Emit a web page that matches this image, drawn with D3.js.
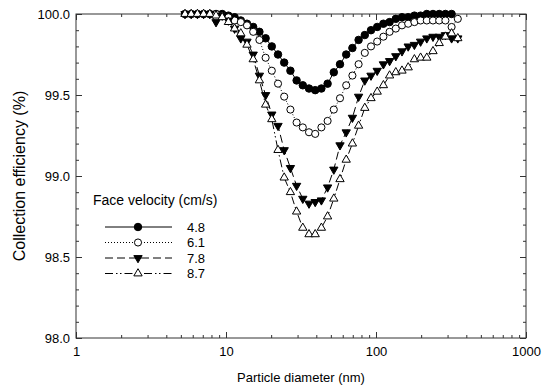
<!DOCTYPE html>
<html>
<head>
<meta charset="utf-8">
<script src="https://cdn.jsdelivr.net/npm/d3@7"></script>
<style>
  html, body { margin: 0; padding: 0; background: #fff; }
  svg { display: block; font-family: "Liberation Sans", Arial, sans-serif; }
</style>
</head>
<body>
<svg id="chart" width="549" height="387"></svg>
<script>
// ---- data ----
const diameters = [5.33, 5.86, 6.45, 7.09, 7.80, 8.58, 9.43, 10.38, 11.41, 12.55,
  13.80, 15.18, 16.70, 18.37, 20.20, 22.22, 24.43, 26.88, 29.56, 32.51,
  35.76, 39.33, 43.25, 47.57, 52.32, 57.54, 63.29, 69.61, 76.56, 84.20,
  92.61, 101.86, 112.03, 123.21, 135.52, 149.05, 163.93, 180.30, 198.30, 218.10,
  239.88, 263.83, 290.17, 319.15, 351.02];

const eff48 = [100.00, 100.00, 100.00, 100.00, 100.00, 100.00, 100.00, 99.99, 99.98, 99.96,
  99.94, 99.92, 99.89, 99.85, 99.80, 99.75, 99.70, 99.65, 99.59, 99.56,
  99.54, 99.53, 99.54, 99.57, 99.64, 99.69, 99.75, 99.79, 99.84, 99.87,
  99.90, 99.92, 99.94, 99.95, 99.97, 99.98, 99.98, 99.99, 99.99, 100.00,
  100.00, 100.00, 100.00, 100.00];

const eff61 = [100.00, 100.00, 100.00, 100.00, 100.00, 100.00, 99.99, 99.98, 99.96, 99.95,
  99.93, 99.89, 99.84, 99.73, 99.65, 99.57, 99.49, 99.41, 99.33, 99.30,
  99.27, 99.26, 99.30, 99.34, 99.41, 99.48, 99.56, 99.62, 99.69, 99.76,
  99.80, 99.83, 99.86, 99.89, 99.91, 99.93, 99.94, 99.95, 99.96, 99.96,
  99.96, 99.96, 99.96, 99.92, 99.97];

const eff78 = [100.00, 100.00, 100.00, 100.00, 100.00, 99.95, 99.99, 99.96, 99.91, 99.85,
  99.83, 99.75, 99.62, 99.50, 99.38, 99.31, 99.16, 99.05, 98.94, 98.86,
  98.83, 98.84, 98.85, 98.93, 99.04, 99.19, 99.27, 99.36, 99.49, 99.59,
  99.62, 99.65, 99.69, 99.71, 99.74, 99.77, 99.80, 99.81, 99.83, 99.85,
  99.86, 99.86, 99.87, 99.85, 99.85];

const eff87 = [100.00, 100.00, 100.00, 100.00, 100.00, 99.99, 99.98, 99.95, 99.91, 99.88,
  99.81, 99.72, 99.59, 99.44, 99.35, 99.16, 98.99, 98.90, 98.78, 98.68,
  98.64, 98.64, 98.68, 98.75, 98.86, 98.98, 99.10, 99.20, 99.31, 99.42,
  99.48, 99.52, 99.56, 99.62, 99.64, 99.65, 99.67, 99.72, 99.73, 99.73,
  99.77, 99.82, 99.86, 99.88, 99.85];

const seriesLabels = ["4.8", "6.1", "7.8", "8.7"];
const legendTitle = "Face velocity (cm/s)";
const xTickValues = [1, 10, 100, 1000];
const yTickValues = [98.0, 98.5, 99.0, 99.5, 100.0];
const xTitle = "Particle diameter (nm)";
const yTitle = "Collection efficiency (%)";

// ---- styles ----
const styles = [
  { values: eff48, symbol: d3.symbolCircle, size: 44, fill: "#000", rotate: 0, dash: null },
  { values: eff61, symbol: d3.symbolCircle, size: 40, fill: "#fff", rotate: 0, dash: "1,2" },
  { values: eff78, symbol: d3.symbolTriangle, size: 30, fill: "#000", rotate: 180, dash: "8,4" },
  { values: eff87, symbol: d3.symbolTriangle, size: 30, fill: "#fff", rotate: 0, dash: "8,3,1.5,2.5,1.5,3" }
];

const svg = d3.select("#chart");
const L = 76, R = 526, T = 14, B = 338;
const x = d3.scaleLog().domain([1, 1000]).range([L, R]);
const y = d3.scaleLinear().domain([98, 100]).range([B, T]);

svg.append("rect").attr("width", 549).attr("height", 387).attr("fill", "#fff");

// minor ticks
const xMinor = [];
[1, 10, 100].forEach(dec => { for (let k = 2; k <= 9; k++) xMinor.push(dec * k); });
const yMinor = d3.range(98.1, 100, 0.1).filter(v => Math.abs(v * 2 - Math.round(v * 2)) > 0.01);

const axisColor = "#333";
function styleAxis(g) {
  g.select(".domain").remove();
  g.selectAll("line").attr("stroke", axisColor).attr("stroke-width", 1);
  g.selectAll("text").attr("fill", "#000").attr("font-size", 13)
    .attr("font-family", "'Liberation Sans', Arial, sans-serif");
}

// bottom
svg.append("g").attr("transform", `translate(0,${B})`)
  .call(d3.axisBottom(x).tickValues(xTickValues).tickFormat(d3.format("d")).tickSize(-6).tickPadding(9))
  .call(styleAxis);
svg.append("g").attr("transform", `translate(0,${B})`)
  .call(d3.axisBottom(x).tickValues(xMinor).tickFormat("").tickSize(-3))
  .call(styleAxis);
// top
svg.append("g").attr("transform", `translate(0,${T})`)
  .call(d3.axisTop(x).tickValues(xTickValues).tickFormat("").tickSize(-6))
  .call(styleAxis);
svg.append("g").attr("transform", `translate(0,${T})`)
  .call(d3.axisTop(x).tickValues(xMinor).tickFormat("").tickSize(-3))
  .call(styleAxis);
// left
svg.append("g").attr("transform", `translate(${L},0)`)
  .call(d3.axisLeft(y).tickValues(yTickValues).tickFormat(d3.format(".1f")).tickSize(-6).tickPadding(6))
  .call(styleAxis);
svg.append("g").attr("transform", `translate(${L},0)`)
  .call(d3.axisLeft(y).tickValues(yMinor).tickFormat("").tickSize(-3))
  .call(styleAxis);
// right
svg.append("g").attr("transform", `translate(${R},0)`)
  .call(d3.axisRight(y).tickValues(yTickValues).tickFormat("").tickSize(-6))
  .call(styleAxis);
svg.append("g").attr("transform", `translate(${R},0)`)
  .call(d3.axisRight(y).tickValues(yMinor).tickFormat("").tickSize(-3))
  .call(styleAxis);

// frame
svg.append("rect").attr("x", L).attr("y", T).attr("width", R - L).attr("height", B - T)
  .attr("fill", "none").attr("stroke", axisColor).attr("stroke-width", 1);

// titles
svg.append("text").attr("x", (L + R) / 2).attr("y", 382).attr("text-anchor", "middle")
  .attr("font-size", 13).text(xTitle);
svg.append("text").attr("transform", `translate(25,${(T + B) / 2}) rotate(-90)`)
  .attr("text-anchor", "middle").attr("font-size", 16).text(yTitle);

// series
const line = d3.line().x(d => x(d[0])).y(d => y(d[1]));
styles.forEach(s => {
  const pts = s.values.map((v, i) => [diameters[i], v]);
  svg.append("path").datum(pts).attr("d", line)
    .attr("fill", "none").attr("stroke", "#000").attr("stroke-width", 1)
    .attr("stroke-dasharray", s.dash);
});
styles.forEach(s => {
  const pts = s.values.map((v, i) => [diameters[i], v]);
  const sym = d3.symbol().type(s.symbol).size(s.size);
  svg.append("g").selectAll("path").data(pts).join("path")
    .attr("d", sym)
    .attr("transform", d => `translate(${x(d[0])},${y(d[1])}) rotate(${s.rotate})`)
    .attr("fill", s.fill).attr("stroke", "#000").attr("stroke-width", 1);
});

// legend
const lg = svg.append("g");
lg.append("text").attr("x", 93).attr("y", 205).attr("font-size", 14).text(legendTitle);
const rowY = [227, 242.5, 258, 273.5];
styles.forEach((s, i) => {
  lg.append("line").attr("x1", 105).attr("x2", 172).attr("y1", rowY[i]).attr("y2", rowY[i])
    .attr("stroke", "#000").attr("stroke-width", 1).attr("stroke-dasharray", s.dash);
  lg.append("path").attr("d", d3.symbol().type(s.symbol).size(s.size))
    .attr("transform", `translate(138,${rowY[i]}) rotate(${s.rotate})`)
    .attr("fill", s.fill).attr("stroke", "#000").attr("stroke-width", 1);
  lg.append("text").attr("x", 187).attr("y", rowY[i]).attr("dy", "0.36em")
    .attr("font-size", 13).text(seriesLabels[i]);
});
</script>
</body>
</html>
